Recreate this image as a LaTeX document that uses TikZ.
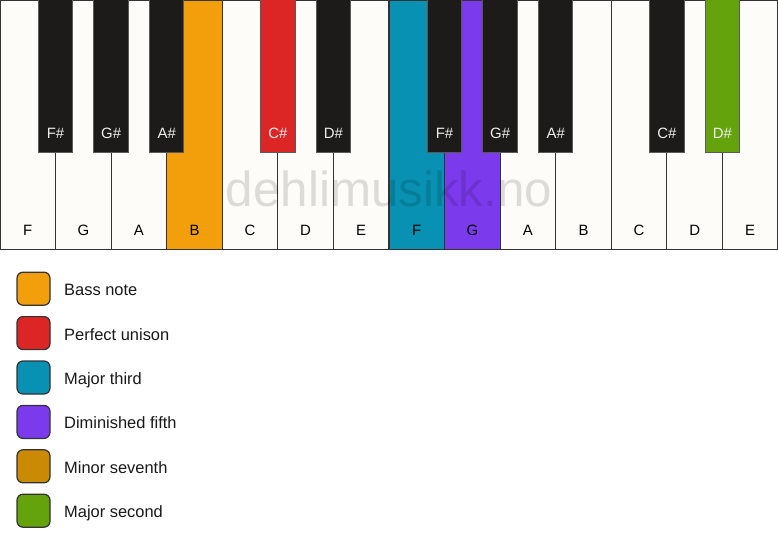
\documentclass[tikz,border=0pt]{standalone}
\usepackage{fontspec}
\setmainfont{Liberation Sans}
\definecolor{keywhite}{RGB}{253,252,249}
\definecolor{keyline}{RGB}{51,51,51}
\definecolor{keyblack}{RGB}{28,27,25}
\definecolor{blackline}{RGB}{90,90,90}
\definecolor{labelwhite}{RGB}{238,238,238}
\definecolor{cbass}{RGB}{243,159,12}
\definecolor{cunison}{RGB}{220,38,38}
\definecolor{cthird}{RGB}{8,145,178}
\definecolor{cfifth}{RGB}{124,58,237}
\definecolor{cseventh}{RGB}{202,138,4}
\definecolor{csecond}{RGB}{101,163,13}
\tikzset{
  whitekey/.style={rectangle, draw=keyline, line width=1.2bp, fill=keywhite,
    minimum width=55.571bp, minimum height=249bp, anchor=north west, inner sep=0pt, outer sep=0pt},
  blackkey/.style={rectangle, draw=blackline, line width=1bp, fill=keyblack,
    minimum width=34.5bp, minimum height=153bp, anchor=north, inner sep=0pt, outer sep=0pt},
  wlabel/.style={font=\fontsize{15}{18}\selectfont, text=black, inner sep=0pt},
  blabel/.style={font=\fontsize{15}{18}\selectfont, text=labelwhite, inner sep=0pt},
  legbox/.style={rectangle, rounded corners=6bp, draw=keyline, line width=1.2bp,
    minimum width=33bp, minimum height=33bp, inner sep=0pt},
  legtext/.style={font=\fontsize{16.5}{19}\selectfont, text=black!90, anchor=base west, inner sep=0pt},
  watermark/.style={font=\fontsize{49.5}{56}\selectfont, text=black, text opacity=0.13, anchor=base, inner sep=0pt}
}
\begin{document}
\begin{tikzpicture}[x=1bp,y=-1bp]
\useasboundingbox (0,0) rectangle (778,550);
\fill[white] (0,0) rectangle (778,550);
\def\w{55.571}
% white keys
\foreach \n/\c [count=\i from 0] in {F/keywhite,G/keywhite,A/keywhite,B/cbass,C/keywhite,D/keywhite,E/keywhite,F/cthird,G/cfifth,A/keywhite,B/keywhite,C/keywhite,D/keywhite,E/keywhite}{
  \node[whitekey, fill=\c] (wk\i) at ({\i*\w},0.6) {};
  \node[wlabel] (wl\i) at ({(\i+0.5)*\w},230.5) {\n};
}
% watermark
\node[watermark] (wm) at (389,207) {dehlimusikk.no};
% black keys
\foreach \b/\n/\c in {1/F\#/keyblack,2/G\#/keyblack,3/A\#/keyblack,5/C\#/cunison,6/D\#/keyblack,8/F\#/keyblack,9/G\#/keyblack,10/A\#/keyblack,12/C\#/keyblack,13/D\#/csecond}{
  \node[blackkey, fill=\c] (bk\b) at ({\b*\w},0) {};
  \node[blabel] (bl\b) at ({\b*\w},133.5) {\n};
}
% legend
\foreach \c/\t [count=\j from 0] in {cbass/Bass note,cunison/Perfect unison,cthird/Major third,cfifth/Diminished fifth,cseventh/Minor seventh,csecond/Major second}{
  \node[legbox, fill=\c] (lb\j) at (33.5,{288.7+\j*44.4}) {};
  \node[legtext] (lt\j) at (64,{288.7+\j*44.4+6.9}) {\t};
}
\end{tikzpicture}
\end{document}
